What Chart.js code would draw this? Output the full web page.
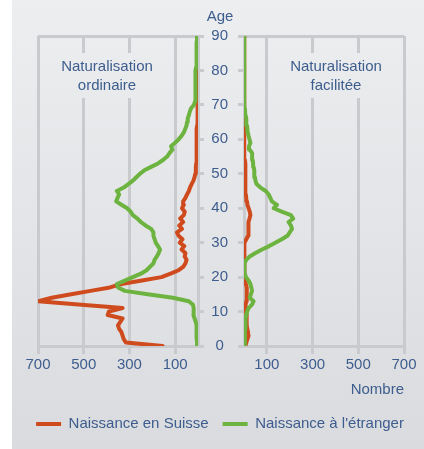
<!DOCTYPE html>
<html>
<head>
<meta charset="utf-8">
<script src="https://cdn.jsdelivr.net/npm/chart.js@4.4.0/dist/chart.umd.min.js"></script>
<style>
  html, body { margin: 0; padding: 0; background: #fff; }
  #wrap { position: relative; width: 424px; height: 449px; }
  #wrap canvas { position: absolute; left: 0; top: 0; }
</style>
</head>
<body>
<div id="wrap">
  <canvas id="left" width="424" height="449"></canvas>
  <canvas id="right" width="424" height="449"></canvas>
</div>
<script>
// ages on the vertical axis
const ages = [0,1,2,3,4,5,6,7,8,9,10,11,12,13,14,15,16,17,18,19,20,21,22,23,24,25,26,27,28,29,
  30,31,32,33,34,35,36,37,38,39,40,41,42,43,44,45,46,47,48,49,50,51,52,53,54,55,56,57,58,59,
  60,61,62,63,64,65,66,67,68,69,70,71,72,73,74,75,76,77,78,79,80,81,82,83,84,85,86,87,88,89,90];

// Naturalisation ordinaire
const ordSuisse = [155,315,325,330,335,345,350,340,330,395,390,330,510,700,640,555,470,385,335,245,
  160,120,85,65,55,50,58,55,72,60,80,68,85,92,70,82,65,78,62,58,
  70,62,65,55,48,40,35,28,20,15,12,10,9,8,8,7,7,6,6,6,
  5,5,5,5,4,4,4,3,3,3,3,3,2,2,2,2,2,2,2,1,1,1,1,1,1,1,1,1,1,1,1];
const ordEtranger = [3,4,5,5,6,6,8,10,15,20,18,20,22,40,110,220,320,350,355,320,
  285,250,225,210,195,190,180,172,166,175,185,190,195,195,205,230,250,265,285,295,
  310,335,358,352,345,355,325,305,285,270,254,235,205,175,153,135,125,112,118,100,
  85,72,62,56,50,48,45,40,36,30,18,13,13,13,12,12,11,11,10,10,9,8,8,7,7,6,6,5,5,4,4];

// Naturalisation facilitée
const facSuisse = [6,10,15,20,18,14,12,13,12,10,8,6,8,10,13,13,12,10,8,6,
  4,3,2,1,1,1,2,2,1,0,4,10,18,20,18,20,20,24,28,25,
  20,15,13,10,8,7,7,6,6,6,6,5,5,5,4,4,4,4,3,3,
  3,3,2,2,2,2,2,1,1,1,0,0,0,0,0,0,0,0,0,0,0,0,0,0,0,0,0,0,0,0,0];
const facEtranger = [2,3,3,4,4,5,5,6,8,10,14,20,35,42,25,30,35,32,28,20,
  8,4,2,1,3,10,25,50,79,110,137,165,190,200,210,205,195,215,205,165,
  130,144,122,115,108,95,72,55,50,48,46,44,42,40,38,36,35,25,22,28,
  24,20,17,15,13,11,9,7,5,4,3,3,2,2,2,2,2,1,1,1,1,1,1,1,1,1,0,0,0,0,0];

const countTicks = [100, 300, 500, 700];
const seriesNames = ['Naissance à l\'étranger', 'Naissance en Suisse'];

const RED = '#cf4b1d';
const GREEN = '#6db33f';
const GRID = '#c9cacd';
const BLUE = '#3d5d8e';
const FONT = "'Liberation Sans', Arial, sans-serif";
const FS = 15;

Chart.defaults.font.family = FONT;
Chart.defaults.font.size = FS;
Chart.defaults.color = BLUE;

function pts(values) {
  return ages.map((a, i) => ({ x: values[i], y: a }));
}

function bgGradient(ctx) {
  const g = ctx.createLinearGradient(0, 0, 0, 449);
  g.addColorStop(0, '#edeef0');
  g.addColorStop(1, '#dadbde');
  return g;
}

const background = {
  id: 'background',
  beforeDraw(chart) {
    const ctx = chart.ctx;
    ctx.save();
    ctx.fillStyle = '#ffffff';
    ctx.fillRect(0, 0, chart.width, chart.height);
    ctx.fillStyle = bgGradient(ctx);
    ctx.fillRect(12, 0, chart.width - 12, chart.height);
    ctx.restore();
  }
};

function panelLabel(lines, cx, box) {
  return {
    id: 'panelLabel',
    afterDraw(chart) {
      const ctx = chart.ctx;
      ctx.save();
      ctx.fillStyle = bgGradient(ctx);
      ctx.fillRect(box[0], box[1], box[2], box[3]);
      ctx.fillStyle = BLUE;
      ctx.font = FS + 'px ' + FONT;
      ctx.textAlign = 'center';
      ctx.textBaseline = 'middle';
      ctx.fillText(lines[0], cx, 67);
      ctx.fillText(lines[1], cx, 86);
      ctx.restore();
    }
  };
}

const ageTitle = {
  id: 'ageTitle',
  afterDraw(chart) {
    const ctx = chart.ctx;
    ctx.save();
    ctx.fillStyle = BLUE;
    ctx.font = FS + 'px ' + FONT;
    ctx.textAlign = 'center';
    ctx.textBaseline = 'middle';
    ctx.fillText('Age', 220, 17);
    ctx.restore();
  }
};

function datasets(etranger, suisse) {
  return [
    { label: seriesNames[0], data: pts(etranger), borderColor: GREEN, backgroundColor: GREEN,
      pointBorderColor: GREEN, pointBorderWidth: 4 },
    { label: seriesNames[1], data: pts(suisse), borderColor: RED, backgroundColor: RED,
      pointBorderColor: RED, pointBorderWidth: 4 }
  ];
}

const lineEl = { borderWidth: 4, tension: 0, borderJoinStyle: 'round', borderCapStyle: 'round', fill: false };
const setTicks = s => { s.ticks = countTicks.map(v => ({ value: v })); };
const topLine = c => (c.tick && c.tick.value === 90) ? GRID : 'rgba(0,0,0,0)';

new Chart(document.getElementById('left'), {
  type: 'line',
  data: { datasets: datasets(ordEtranger, ordSuisse) },
  options: {
    responsive: false,
    animation: false,
    devicePixelRatio: 1,
    indexAxis: 'y',
    layout: { padding: { left: 16, top: 36, right: 0, bottom: 7.5 } },
    elements: { point: { radius: 0, hoverRadius: 0 }, line: lineEl },
    plugins: {
      tooltip: { enabled: false },
      legend: {
        position: 'bottom',
        labels: {
          usePointStyle: true,
          pointStyle: 'line',
          pointStyleWidth: 25,
          padding: 14,
          color: BLUE,
          font: { size: FS },
          sort: (a, b) => b.datasetIndex - a.datasetIndex
        }
      }
    },
    scales: {
      x: {
        type: 'linear', reverse: true, min: 0, max: 700,
        afterBuildTicks: setTicks,
        afterFit: s => { s.height = 56.5; },
        grid: { color: GRID, lineWidth: 3, tickLength: 8 },
        border: { color: GRID, width: 3 },
        ticks: { padding: 2, maxRotation: 0, autoSkip: false, color: BLUE }
      },
      y: {
        type: 'linear', position: 'right', min: 0, max: 90,
        ticks: { stepSize: 10, display: false },
        grid: { color: topLine, tickColor: GRID, lineWidth: 3, tickLength: 6 },
        border: { color: GRID, width: 3 },
        afterFit: s => { s.width = 226; }
      },
      pad: {
        type: 'linear', position: 'left', display: true,
        ticks: { display: false }, grid: { display: false }, border: { display: false },
        afterFit: s => { s.width = 22; }
      }
    }
  },
  plugins: [background, panelLabel(['Naturalisation', 'ordinaire'], 107, [57, 53, 100, 45])]
});

new Chart(document.getElementById('right'), {
  type: 'line',
  data: { datasets: datasets(facEtranger, facSuisse) },
  options: {
    responsive: false,
    animation: false,
    devicePixelRatio: 1,
    indexAxis: 'y',
    layout: { padding: { left: 0, top: 36, right: 20, bottom: 48 } },
    elements: { point: { radius: 0, hoverRadius: 0 }, line: lineEl },
    plugins: { tooltip: { enabled: false }, legend: { display: false } },
    scales: {
      x: {
        type: 'linear', min: 0, max: 700,
        afterBuildTicks: setTicks,
        afterFit: s => { s.height = 55; },
        grid: { color: GRID, lineWidth: 3, tickLength: 8 },
        border: { color: GRID, width: 3 },
        ticks: { padding: 2, maxRotation: 0, autoSkip: false, color: BLUE },
        title: { display: true, text: 'Nombre', align: 'end', color: BLUE, font: { size: FS }, padding: { top: 0, bottom: 2 } }
      },
      y: {
        type: 'linear', position: 'left', min: 0, max: 90,
        ticks: { stepSize: 10, crossAlign: 'center', padding: 10, color: BLUE },
        grid: { color: topLine, tickColor: GRID, lineWidth: 3, tickLength: 6 },
        border: { color: GRID, width: 3 },
        afterFit: s => { s.width = 244; }
      }
    }
  },
  plugins: [ageTitle, panelLabel(['Naturalisation', 'facilitée'], 336, [287, 53, 98, 45])]
});
</script>
</body>
</html>
